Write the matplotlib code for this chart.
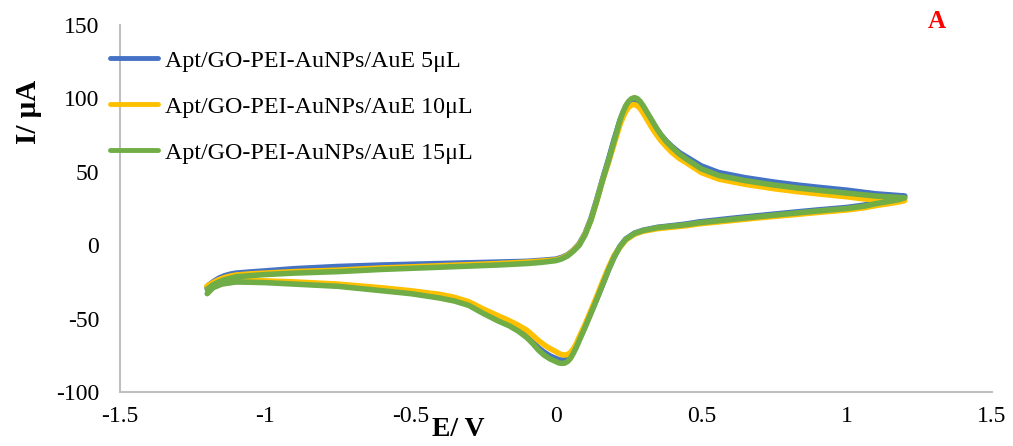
import matplotlib
matplotlib.use("Agg")
import matplotlib.pyplot as plt

# ---- data ----
labels = ["Apt/GO-PEI-AuNPs/AuE 5μL", "Apt/GO-PEI-AuNPs/AuE 10μL", "Apt/GO-PEI-AuNPs/AuE 15μL"]
colors = ["#4472C4", "#FFC000", "#70AD47"]

# forward (anodic) sweep potentials, V
E_fwd = [-1.20, -1.18, -1.16, -1.14, -1.12, -1.10, -1.05, -1.00, -0.90,
         -0.75, -0.60, -0.40, -0.20, -0.10, -0.05, 0.00, 0.02,
         0.04, 0.06, 0.08, 0.10, 0.12, 0.14, 0.16, 0.18, 0.20, 0.22,
         0.23, 0.24, 0.25, 0.26, 0.27, 0.28, 0.29, 0.30, 0.315, 0.33,
         0.345, 0.36, 0.38, 0.40, 0.425, 0.45, 0.50, 0.56,
         0.65, 0.75, 0.83, 0.90, 1.00, 1.06, 1.10, 1.20]
# reverse (cathodic) sweep potentials, V
E_rev = [1.20, 1.18, 1.15, 1.10, 1.06, 1.00, 0.90, 0.83, 0.70,
         0.60, 0.49, 0.45, 0.40, 0.35, 0.30, 0.27, 0.24, 0.22,
         0.20, 0.18, 0.16, 0.14, 0.12, 0.10, 0.08, 0.07, 0.06, 0.05,
         0.04, 0.03, 0.02, 0.01, 0.00, -0.02, -0.04, -0.06, -0.08, -0.10,
         -0.13, -0.16, -0.20, -0.25, -0.30, -0.35, -0.40, -0.50, -0.60,
         -0.75, -0.90, -1.00, -1.10, -1.15, -1.18, -1.20]

# currents, µA
I_fwd_5 = [-28, -25, -22.5, -20.8, -19.7, -19, -18.2, -17.5, -16,
           -14.5, -13.5, -12.5, -11.5, -11, -10.3, -9.5, -8.3,
           -6.5, -3.3, 1, 8, 18, 31, 45, 58, 72, 85,
           90, 94, 96.8, 98.3, 98.8, 98.2, 96.5, 93.8, 89, 84.3,
           79.5, 75.3, 70.8, 67, 63, 60, 54, 49.5,
           46, 43, 41, 39.5, 37.5, 36, 35, 33.5]
I_rev_5 = [33.5, 31.5, 30.5, 29, 27.3, 25.7, 24, 22.7, 20.2,
           18.2, 15.8, 14.5, 13.3, 12.2, 10.2, 8.2, 4.2, -0.8,
           -8, -17, -27, -36.5, -46, -55, -63.5, -68, -72, -75.3,
           -77.3, -78.2, -78.3, -78, -77.2, -75.5, -73, -70, -66, -62,
           -58, -54.5, -51, -46, -40.5, -37.5, -35.5, -32.5, -30.5,
           -27.5, -26, -25, -24.7, -26, -27.5, -29]

I_fwd_10 = [-28, -25.5, -23.5, -22, -21, -20.3, -19.5, -19, -18,
            -17, -15.5, -14, -12.5, -11.5, -10.8, -10, -8.8,
            -6.8, -3.5, 0.5, 7.5, 17, 30, 44, 56, 69, 82,
            87, 91, 94, 95.5, 95.8, 95, 93, 90, 85, 80,
            75.5, 71.5, 67, 63, 59, 56, 49.5, 45,
            41.5, 38.5, 36.5, 35, 33, 31.5, 31, 30.5]
I_rev_10 = [30.5, 29.5, 28.5, 27, 25.5, 24, 22.3, 21, 18.7,
            16.7, 14.5, 13.3, 12.3, 11.3, 9.5, 7.5, 3.5, -1.5,
            -7, -15.5, -25, -35, -44.5, -54, -62.5, -67, -70.5, -73,
            -74.5, -74.8, -74.5, -73.8, -72.5, -70.5, -68, -65, -61.5, -58,
            -54.5, -51.5, -48, -43.5, -38.5, -35.5, -33.5, -31, -29,
            -26.5, -25, -24.3, -24, -25.5, -26.5, -28]

I_fwd_15 = [-30, -27, -25, -23.5, -22.5, -21.5, -20.7, -20, -19,
            -18, -16.5, -15, -13.5, -12.5, -11.7, -10.5, -9.3,
            -7.3, -4, 0, 7, 17, 30, 44, 57, 71, 85,
            90.5, 95, 98, 99.8, 100.5, 99.8, 97.8, 95, 90, 85,
            80, 75.5, 70.5, 66.5, 62, 58.5, 52, 47.5,
            44, 41, 39, 37.5, 35.5, 34.3, 33.5, 32.3]
I_rev_15 = [32.3, 31, 30, 28.3, 26.6, 25, 23.3, 22, 19.5,
            17.5, 15.2, 14, 13, 12, 10, 8, 4, -1,
            -8, -17, -27, -37, -46.5, -56, -65, -69.5, -73.5, -77,
            -79.2, -80.3, -80.5, -80.2, -79.3, -77.5, -75, -71.5, -67, -63,
            -58.5, -55, -51.5, -46.5, -41, -38, -36, -33, -31,
            -28, -26.5, -25.5, -25, -26.5, -29, -33]

I_all = [(I_fwd_5, I_rev_5), (I_fwd_10, I_rev_10), (I_fwd_15, I_rev_15)]

xticks = [-1.5, -1, -0.5, 0, 0.5, 1, 1.5]
xticklabels = ["-1.5", "-1", "-0.5", "0", "0.5", "1", "1.5"]
yticks = [-100, -50, 0, 50, 100, 150]
yticklabels = ["-100", "-50", "0", "50", "100", "150"]

# ---- figure ----
plt.rcParams["font.family"] = ["Liberation Serif", "DejaVu Serif"]
plt.rcParams["axes.unicode_minus"] = False
fig = plt.figure(figsize=(10.13, 4.46), dpi=100)
ax = fig.add_axes([120 / 1013, 1 - 392 / 446, (992 - 120) / 1013, (392 - 25) / 446])

for (fwd, rev), c, lab in zip(I_all, colors, labels):
    ax.plot(E_fwd + E_rev, fwd + rev, color=c, lw=4, label=lab,
            solid_capstyle="round", solid_joinstyle="round")

ax.set_xlim(-1.5, 1.5)
ax.set_ylim(-100, 150)
ax.set_xticks(xticks)
ax.set_xticklabels(xticklabels)
ax.set_yticks(yticks)
ax.set_yticklabels(yticklabels)
ax.tick_params(axis="both", length=0, labelsize=17, colors="black")
ax.tick_params(axis="y", pad=15)
ax.tick_params(axis="x", pad=10)
for s in ["top", "right"]:
    ax.spines[s].set_visible(False)
for s in ["left", "bottom"]:
    ax.spines[s].set_color("#BFBFBF")
    ax.spines[s].set_linewidth(1.5)

leg = ax.legend(loc="upper left", bbox_to_anchor=(110 / 1013, 1 - 50 / 446),
                bbox_transform=fig.transFigure, frameon=False, fontsize=17.3,
                handlelength=2.0, handletextpad=0.3, labelspacing=1.0,
                borderpad=0, borderaxespad=0)
for h in leg.get_lines():
    h.set_linewidth(3.5)

fig.text(28 / 1013, 1 - 112 / 446, "I/ μA", rotation=90, ha="center", va="center",
         fontsize=21, fontweight="bold")
fig.text(458 / 1013, 1 - 430 / 446, "E/ V", ha="center", va="center",
         fontsize=20, fontweight="bold")
fig.text(937 / 1013, 1 - 21 / 446, "A", ha="center", va="center",
         fontsize=18, fontweight="bold", color="red")

fig.savefig("out.png", dpi=100)
